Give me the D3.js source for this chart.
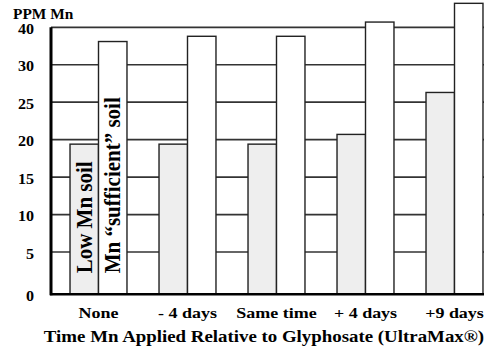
<!DOCTYPE html>
<html><head><meta charset="utf-8">
<script src="https://cdn.jsdelivr.net/npm/d3@7"></script>
<style>
body{margin:0;background:#fff}
svg{display:block}
</style>
</head><body><svg width="490" height="347"></svg>
<script>
const categories = ["None", "- 4 days", "Same time", "+ 4 days", "+9 days"];
const lowMn = [19.4, 19.4, 19.4, 20.7, 26.3];
const sufficientMn = [33.1, 33.8, 33.8, 35.7, 38.2];
const seriesNames = ["Low Mn soil", "Mn \u201csufficient\u201d soil"];
const tickValues = [0, 5, 10, 15, 20, 25, 30, 35];
const tickLabels = ["0", "5", "10", "15", "20", "25", "30", "40"];
const yTitle = "PPM Mn";
const xTitle = "Time Mn Applied Relative to Glyphosate (UltraMax\u00ae)";

const FONT = "'Liberation Serif','Times New Roman',Tinos,'DejaVu Serif',serif";
const svg = d3.select("svg");
const left = 51, right = 484;
const y = d3.scaleLinear().domain([0, 5, 35]).range([294.3, 252, 27.3]);
const x0 = d3.scaleBand().domain(categories).range([54, 499]).paddingInner(0.36).paddingOuter(0.18);
const x1 = d3.scaleBand().domain([0, 1]).range([0, x0.bandwidth()]);
const fills = ["#eeeeee", "#ffffff"];
const series = [lowMn, sufficientMn];

// gridlines
svg.append("g").selectAll("line").data(tickValues.filter(v => v > 0)).join("line")
  .attr("x1", left).attr("x2", right)
  .attr("y1", d => y(d)).attr("y2", d => y(d))
  .attr("stroke", "#333").attr("stroke-width", 1.7);

// bars
const groups = svg.append("g").selectAll("g").data(categories).join("g")
  .attr("transform", d => `translate(${x0(d)},0)`);
groups.selectAll("rect").data((d, i) => series.map((s, k) => ({k, v: s[i]}))).join("rect")
  .attr("x", d => x1(d.k)).attr("width", x1.bandwidth())
  .attr("y", d => y(d.v)).attr("height", d => y(0) - y(d.v))
  .attr("fill", d => fills[d.k]).attr("stroke", "#222").attr("stroke-width", 1.4);

// axes lines
svg.append("line").attr("x1", left).attr("x2", left).attr("y1", y(35)).attr("y2", y(0) + 1)
  .attr("stroke", "#000").attr("stroke-width", 3);
svg.append("line").attr("x1", left - 1).attr("x2", right).attr("y1", y(0)).attr("y2", y(0))
  .attr("stroke", "#000").attr("stroke-width", 2.5);

function txt(sel) {
  return sel.attr("font-family", FONT).attr("font-weight", "bold").attr("fill", "#000");
}

// y tick labels
txt(svg.append("g").selectAll("text").data(tickValues).join("text"))
  .attr("text-anchor", "end").attr("font-size", 14)
  .attr("transform", d => `translate(34,${y(d) + 6.5}) scale(1.15,1)`)
  .text((d, i) => tickLabels[i]);

// y title
txt(svg.append("text")).attr("font-size", 14)
  .attr("transform", `translate(13,19.3) scale(1.1,1)`).text(yTitle);

// x labels
txt(svg.append("g").selectAll("text").data(categories).join("text"))
  .attr("text-anchor", "middle").attr("font-size", 15)
  .attr("transform", d => `translate(${x0(d) + x0.bandwidth() / 2},317.5) scale(1.2,1)`)
  .text(d => d);

// x title
txt(svg.append("text")).attr("text-anchor", "middle").attr("font-size", 16)
  .attr("transform", `translate(264,341.5) scale(1.18,1)`).text(xTitle);

// series labels inside first group
txt(svg.append("g").selectAll("text").data(seriesNames).join("text"))
  .attr("font-size", 21)
  .attr("transform", (d, k) => `translate(${x0(categories[0]) + x1(k) + x1.bandwidth() - 7},${y(0) - 21}) scale(1.08,1) rotate(-90)`)
  .text(d => d);
</script>
</body></html>
